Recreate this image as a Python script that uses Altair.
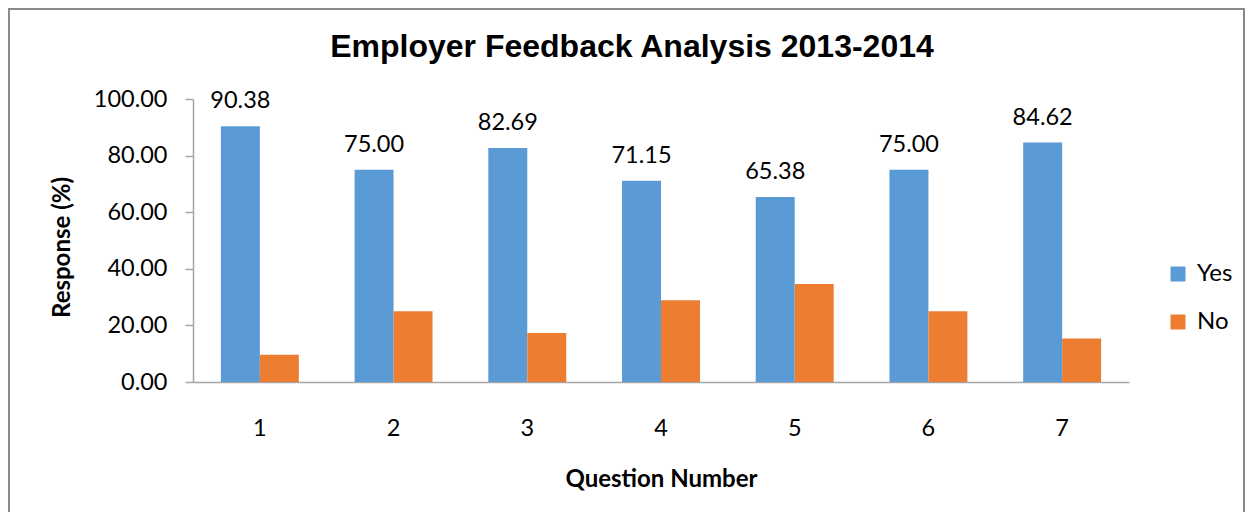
import altair as alt
import pandas as pd

questions = ["1", "2", "3", "4", "5", "6", "7"]
yes_values = [90.38, 75.00, 82.69, 71.15, 65.38, 75.00, 84.62]
no_values = [9.62, 25.00, 17.31, 28.85, 34.62, 25.00, 15.38]
series = ["Yes", "No"]
colors = ["#5B9BD5", "#ED7D31"]
y_ticks = [0, 20, 40, 60, 80, 100]

rows = []
for q, y, n in zip(questions, yes_values, no_values):
    rows.append({"question": q, "answer": "Yes", "value": y})
    rows.append({"question": q, "answer": "No", "value": n})
df = pd.DataFrame(rows)

FONT = "Lato"
LBL = 23.5

x_enc = alt.X(
    "question:N",
    sort=questions,
    scale=alt.Scale(paddingInner=0.417, paddingOuter=0.2085),
    axis=alt.Axis(
        title="Question Number",
        labelAngle=0,
        ticks=False,
        labelPadding=34,
        labelFontSize=LBL,
        labelFont=FONT,
        labelColor="#000000",
        titleFont=FONT,
        titleFontSize=24,
        titleFontWeight="bold",
        titleColor="#000000",
        titleY=85,
        titleBaseline="top",
        domainColor="#A6A6A6",
        domainWidth=1.5,
    ),
)
xoff = alt.XOffset("answer:N", sort=series, scale=alt.Scale(domain=series))

bars = alt.Chart(df).mark_bar().encode(
    x=x_enc,
    xOffset=xoff,
    y=alt.Y(
        "value:Q",
        scale=alt.Scale(domain=[0, 100]),
        axis=alt.Axis(
            title="Response (%)",
            values=y_ticks,
            format=".2f",
            grid=False,
            tickSize=8,
            tickColor="#A6A6A6",
            tickWidth=1.5,
            domainColor="#A6A6A6",
            domainWidth=1.5,
            labelPadding=18,
            labelFontSize=LBL,
            labelFont=FONT,
            labelColor="#000000",
            titleFont=FONT,
            titleFontSize=24,
            titleFontWeight="bold",
            titleColor="#000000",
            titleX=-119,
            titleY=148,
        ),
    ),
    color=alt.Color(
        "answer:N",
        sort=series,
        scale=alt.Scale(domain=series, range=colors),
        legend=alt.Legend(
            title=None,
            orient="none",
            legendX=973,
            legendY=163,
            symbolType="square",
            symbolSize=225,
            symbolStrokeWidth=0,
            labelFontSize=24,
            labelFont=FONT,
            labelColor="#000000",
            labelOffset=7,
            rowPadding=24,
            padding=0,
        ),
    ),
)

labels = alt.Chart(df).transform_filter(alt.datum.answer == "Yes").mark_text(
    baseline="alphabetic", dy=-18, fontSize=LBL, font=FONT, color="#000000"
).encode(
    x=alt.X("question:N", sort=questions),
    xOffset=xoff,
    y=alt.Y("value:Q"),
    text=alt.Text("value:Q", format=".2f"),
)

frame = alt.Chart(alt.Data(values=[{"k": 1}])).mark_rect(
    fillOpacity=0, stroke="#8A8A8A", strokeWidth=2
).encode(
    x=alt.value(-184),
    x2=alt.value(1051),
    y=alt.value(-90),
    y2=alt.value(560),
)

chart = alt.layer(frame, bars, labels).properties(
    width=936,
    height=283,
    autosize=alt.AutoSizeParams(type="none"),
    padding={"left": 185, "top": 91, "right": 116, "bottom": 130},
    background="#FFFFFF",
    title=alt.TitleParams(
        "Employer Feedback Analysis 2013-2014",
        font="Liberation Sans",
        fontSize=32,
        fontWeight="bold",
        color="#000000",
        anchor="middle",
        dx=-29,
        baseline="bottom",
        offset=-88,
    ),
).configure_view(stroke="transparent")

chart.save("out.html", embed_options={"renderer": "svg", "actions": False})
